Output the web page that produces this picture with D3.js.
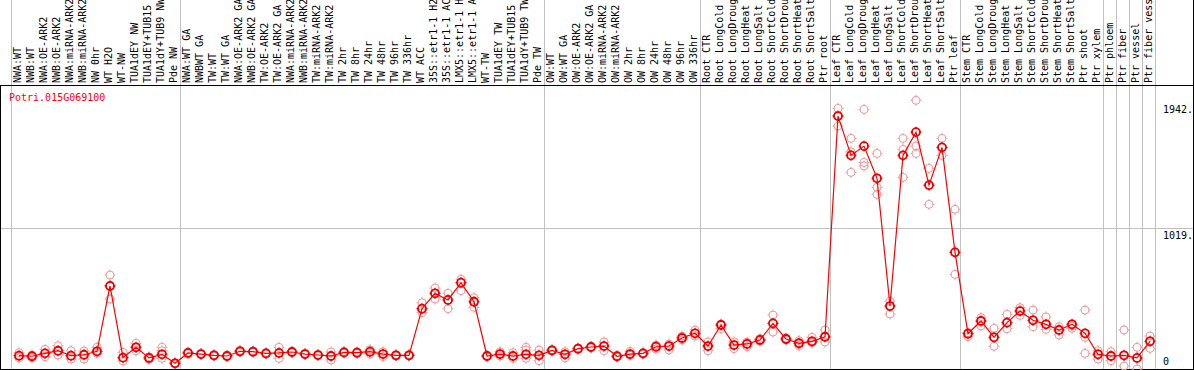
<!DOCTYPE html>
<html>
<head>
<meta charset="utf-8">
<script src="https://cdn.jsdelivr.net/npm/d3@7/dist/d3.min.js"></script>
<style>
  html, body { margin: 0; padding: 0; background: #fff; }
  svg { display: block; }
  text { font-family: "DejaVu Sans Mono", "Liberation Mono", monospace; font-size: 10px; }
</style>
</head>
<body>
<svg id="chart" width="1194" height="370"></svg>
<script>
const geneName = "Potri.015G069100";

const categories = [
  "NWA:WT","NWB:WT","NWA:OE-ARK2","NWB:OE-ARK2","NWA:miRNA-ARK2","NWB:miRNA-ARK2","NW 0hr","WT H2O","WT-NW","TUA1dEY NW","TUA1dEY+TUB15","TUA1dY+TUB9 NW","Pde NW",
  "NWA:WT GA","NWBWT GA","TW:WT","TW:WT GA","NWA:OE-ARK2 GA","NWB:OE-ARK2 GA","TW:OE-ARK2","TW:OE-ARK2 GA","NWA:miRNA-ARK2","NWB:miRNA-ARK2","TW:miRNA-ARK2","TW:miRNA-ARK2","TW 2hr","TW 8hr","TW 24hr","TW 48hr","TW 96hr","TW 336hr","WT ACC","35S::etr1-1 H2","35S::etr1-1 AC","LMX5::etr1-1 H","LMX5::etr1-1 A","WT-TW","TUA1dEY TW","TUA1dEY+TUB15","TUA1dY+TUB9 TW","Pde TW",
  "OW:WT","OW:WT GA","OW:OE-ARK2","OW:OE-ARK2 GA","OW:miRNA-ARK2","OW:miRNA-ARK2","OW 2hr","OW 8hr","OW 24hr","OW 48hr","OW 96hr","OW 336hr",
  "Root CTR","Root LongCold","Root LongDroug","Root LongHeat","Root LongSalt","Root ShortCold","Root ShortDrou","Root ShortHeat","Root ShortSalt","Ptr root",
  "Leaf CTR","Leaf LongCold","Leaf LongDroug","Leaf LongHeat","Leaf LongSalt","Leaf ShortCold","Leaf ShortDrou","Leaf ShortHeat","Leaf ShortSalt","Ptr leaf",
  "Stem CTR","Stem LongCold","Stem LongDroug","Stem LongHeat","Stem LongSalt","Stem ShortCold","Stem ShortDrou","Stem ShortHeat","Stem ShortSalt","Ptr shoot","Ptr xylem",
  "Ptr phloem","Ptr fiber","Ptr vessel","Ptr fiber vess"
];

// indexes of categories where a new group starts (separator lines)
const groupStarts = [0, 13, 41, 53, 63, 73, 84, 85, 86, 87, 88];

const meanValues = [
  96, 92, 113, 132, 96, 103, 128, 600, 82, 157, 80, 106, 41,
  116, 108, 99, 94, 128, 125, 113, 116, 123, 108, 101, 94, 120, 118, 125, 108, 99, 99, 436, 547, 499, 624, 486, 94, 108, 94, 106, 99,
  135, 106, 147, 159, 166, 92, 108, 113, 161, 166, 224, 258,
  166, 318, 173, 181, 210, 330, 217, 186, 200, 233,
  1828, 1544, 1611, 1378, 455, 1544, 1712, 1329, 1602, 843,
  255, 347, 229, 335, 419, 352, 323, 282, 323, 258, 106,
  94, 99, 80, 200
];

const replicateValues = [
  [118, 96, 80], [101, 92, 80], [142, 113, 89], [168, 132, 101], [132, 96, 72], [130, 103, 72], [157, 128, 113], [679, 600, 506], [120, 82, 58], [186, 157, 132], [89, 80, 70], [157, 132, 77], [45, 41, 38],
  [122, 116, 110], [112, 108, 104], [104, 99, 94], [99, 94, 89], [134, 128, 122], [130, 125, 120], [118, 113, 108], [157, 116, 77], [128, 123, 118], [113, 108, 103], [106, 101, 96], [123, 94, 65], [126, 120, 114], [124, 118, 112], [140, 125, 110], [125, 108, 89], [104, 99, 94], [104, 99, 94], [479, 436, 407], [585, 547, 506], [547, 499, 436], [648, 624, 566], [515, 486, 446], [99, 94, 89], [125, 108, 94], [118, 94, 77], [157, 137, 77], [137, 99, 60],
  [140, 135, 130], [125, 106, 80], [152, 147, 142], [164, 159, 154], [195, 166, 132], [97, 92, 87], [128, 108, 98], [118, 113, 108], [173, 161, 144], [180, 166, 137], [238, 224, 210], [282, 258, 238],
  [195, 166, 132], [325, 318, 291], [197, 173, 147], [195, 181, 161], [219, 210, 200], [390, 330, 267], [224, 217, 210], [205, 186, 168], [229, 200, 190], [282, 233, 195],
  [1884, 1828, 1756], [1667, 1570, 1421], [1876, 1493, 1467], [1558, 1313, 1262], [491, 455, 397], [1667, 1587, 1385], [1942, 1611, 1558], [1450, 1329, 1190], [1667, 1602, 1544], [1154, 843, 684],
  [262, 255, 233], [371, 347, 311], [294, 229, 164], [395, 335, 291], [443, 419, 388], [426, 352, 306], [376, 323, 287], [306, 282, 246], [323, 310, 294], [426, 229, 113], [132, 106, 72],
  [125, 94, 60], [282, 99, 22], [157, 80, 0], [238, 200, 149]
];

const tickValues = [0, 1019, 1942];
const tickLabels = ["0", "1019.", "1942."];

const W = 1194, H = 370;
const svg = d3.select("#chart");

const x = d3.scaleBand().domain(d3.range(categories.length)).range([11, 1155]).paddingInner(0).paddingOuter(0);
const y = d3.scaleLinear().domain([0, 1942]).range([369, 100.3]);
const bw = x.bandwidth();
const px = i => x(i) + 8;
const sepX = i => (i >= categories.length ? x.range()[1] : x(i));

// horizontal grid line at middle tick
svg.append("line")
  .attr("x1", 0).attr("x2", W)
  .attr("y1", Math.round(y(1019)) + 0.5).attr("y2", Math.round(y(1019)) + 0.5)
  .attr("stroke", "#c0c0c0").attr("stroke-width", 1);

// vertical group separators
svg.append("g").selectAll("line").data(groupStarts).join("line")
  .attr("x1", d => Math.round(sepX(d)) + 0.5).attr("x2", d => Math.round(sepX(d)) + 0.5)
  .attr("y1", 0).attr("y2", 369)
  .attr("stroke", "#c0c0c0").attr("stroke-width", 1);

// frame
svg.append("line").attr("x1", 0).attr("x2", W).attr("y1", 85.5).attr("y2", 85.5).attr("stroke", "#000");
svg.append("line").attr("x1", 0).attr("x2", W).attr("y1", 369.5).attr("y2", 369.5).attr("stroke", "#000");
svg.append("line").attr("x1", 0.5).attr("x2", 0.5).attr("y1", 85).attr("y2", 370).attr("stroke", "#000");
svg.append("line").attr("x1", 1193.5).attr("x2", 1193.5).attr("y1", 0).attr("y2", 370).attr("stroke", "#000");

// header labels
svg.append("g").selectAll("text").data(categories).join("text")
  .attr("transform", (d, i) => `translate(${x(i) + 10},83) rotate(-90)`)
  .attr("fill", "#000")
  .text(d => d);

// gene name
svg.append("text").attr("x", 9).attr("y", 101).attr("fill", "#ff0000").text(geneName);

// right axis
const axis = d3.axisRight(y).tickValues(tickValues).tickSize(0)
  .tickFormat((d, i) => tickLabels[i]);
const ag = svg.append("g").attr("transform", "translate(1160,0)").call(axis);
ag.select(".domain").remove();
ag.selectAll("text")
  .attr("x", 3).attr("dy", null)
  .attr("font-family", "DejaVu Sans Mono").attr("font-size", 10)
  .attr("fill", "#000")
  .attr("y", (d) => d === 0 ? -5 : (d === 1019 ? 10 : 12));

function marker(g, cx, cy, color, sw) {
  const r = 4;
  g.append("circle").attr("cx", cx).attr("cy", cy).attr("r", r)
    .attr("fill", "none").attr("stroke", color).attr("stroke-width", sw);
  const t = [[0, -r - 1.5, 0, -r + 0.5], [0, r - 0.5, 0, r + 1.5], [-r - 1.5, 0, -r + 0.5, 0], [r - 0.5, 0, r + 1.5, 0]];
  t.forEach(s => g.append("line")
    .attr("x1", cx + s[0]).attr("y1", cy + s[1]).attr("x2", cx + s[2]).attr("y2", cy + s[3])
    .attr("stroke", color).attr("stroke-width", 1));
}

// replicates
const repG = svg.append("g");
replicateValues.forEach((arr, i) => {
  arr.forEach(v => marker(repG, px(i), y(v), "#ee9a9a", 1));
});

// mean line
const line = d3.line().x((d, i) => px(i)).y(d => y(d));
svg.append("path").datum(meanValues).attr("d", line)
  .attr("fill", "none").attr("stroke", "#ff0000").attr("stroke-width", 1.2);

// means
const meanG = svg.append("g");
meanValues.forEach((v, i) => marker(meanG, px(i), y(v), "#ee0000", 1.8));
</script>
</body>
</html>
